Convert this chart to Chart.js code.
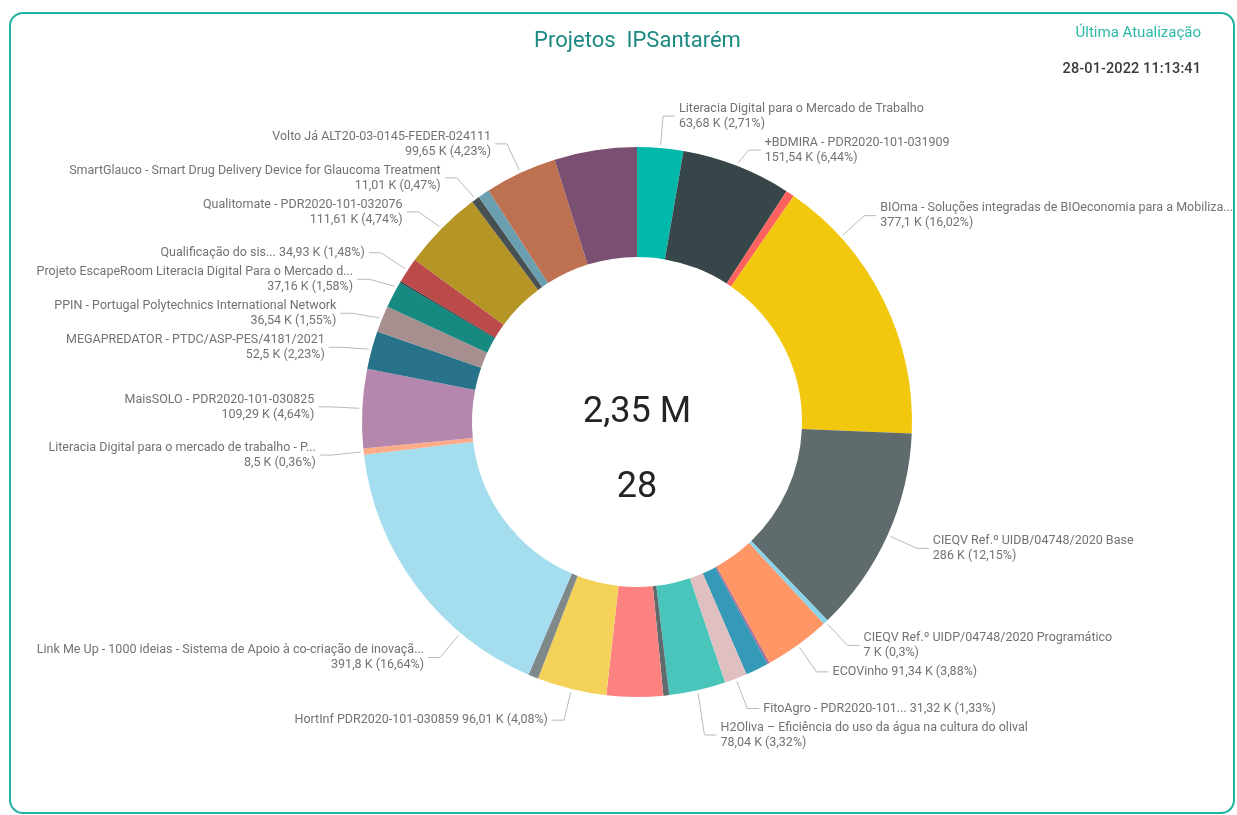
<!DOCTYPE html>
<html>
<head>
<meta charset="utf-8">
<script src="https://cdn.jsdelivr.net/npm/chart.js@4.4.1/dist/chart.umd.min.js"></script>
<style>
  html, body { margin: 0; padding: 0; background: #fff; }
  body { width: 1237px; height: 815px; position: relative; overflow: hidden; font-family: Roboto, sans-serif; }
  .frame { position: absolute; left: 9px; top: 12px; width: 1222px; height: 798px;
           border: 2px solid #1fb3a1; border-radius: 14px; }
  #title { position: absolute; left: 19px; top: 27px; width: 1237px; text-align: center;
           font-size: 22px; color: #1b8a80; white-space: pre; }
  #updLabel { position: absolute; right: 36px; top: 23px; font-size: 15px; color: #2bb9a7; }
  #updDate { position: absolute; right: 36px; top: 60px; font-size: 14.5px; font-weight: 500; color: #3a3a3a; letter-spacing: 0.1px; }
  #c { position: absolute; left: 0; top: 0; }
</style>
</head>
<body>
<div class="frame"></div>
<canvas id="c" width="1237" height="815"></canvas>
<div id="title">Projetos  IPSantarém</div>
<div id="updLabel">Última Atualização</div>
<div id="updDate">28-01-2022 11:13:41</div>
<script>
// projects in drawing order (clockwise from the top), '' = label hidden in the report
const projects = [
  'Literacia Digital para o Mercado de Trabalho',
  '+BDMIRA - PDR2020-101-031909',
  '',
  'BIOma - Soluções integradas de BIOeconomia para a Mobiliza...',
  'CIEQV Ref.º UIDB/04748/2020 Base',
  'CIEQV Ref.º UIDP/04748/2020 Programático',
  'ECOVinho',
  '',
  '',
  'FitoAgro - PDR2020-101...',
  'H2Oliva – Eficiência do uso da água na cultura do olival',
  '',
  '',
  'HortInf PDR2020-101-030859',
  '',
  'Link Me Up - 1000 ideias - Sistema de Apoio à co-criação de inovaçã...',
  'Literacia Digital para o mercado de trabalho - P...',
  'MaisSOLO - PDR2020-101-030825',
  'MEGAPREDATOR - PTDC/ASP-PES/4181/2021',
  'PPIN - Portugal Polytechnics International Network',
  'Projeto EscapeRoom Literacia Digital Para o Mercado d...',
  '',
  'Qualificação do sis...',
  'Qualitomate - PDR2020-101-032076',
  'SmartGlauco - Smart Drug Delivery Device for Glaucoma Treatment',
  '',
  'Volto Já ALT20-03-0145-FEDER-024111',
  ''
];

// budget in thousands of euro
const valuesK = [
  63.68, 151.54, 12, 377.1, 286, 7, 91.34, 3, 32, 31.32,
  78.04, 8, 78, 96.01, 14, 391.8, 8.5, 109.29, 52.5, 36.54,
  37.16, 2, 34.93, 111.61, 11.01, 16, 99.65, 114
];

const colors = [
  '#01B8AA', '#374649', '#FD625E', '#F2C80F', '#5F6B6D', '#8AD4EB', '#FE9666', '#A66999', '#3599B8', '#DFBFBF',
  '#4AC5BB', '#5F6B6D', '#FB8281', '#F4D25A', '#7F898A', '#A4DDEE', '#FDAB89', '#B687AC', '#28738A', '#A78F8F',
  '#168980', '#293537', '#BB4A4A', '#B59525', '#475052', '#6A9FB0', '#BD7150', '#7B4F71'
];

const fmt = (n) => String(+n.toFixed(2)).replace('.', ',');

const pieLabels = {
  id: 'pieLabels',
  afterDatasetsDraw(chart) {
    const { ctx } = chart;
    const arcs = chart.getDatasetMeta(0).data;
    const total = valuesK.reduce((s, v) => s + v, 0);
    ctx.save();
    ctx.font = '12.5px Roboto, sans-serif';
    const items = [];
    arcs.forEach((arc, i) => {
      const name = projects[i];
      if (!name) return;
      const { x, y, startAngle, endAngle, outerRadius } =
        arc.getProps(['x', 'y', 'startAngle', 'endAngle', 'outerRadius'], true);
      const value = fmt(valuesK[i]) + ' K (' + fmt(valuesK[i] / total * 100) + '%)';
      const lines = name.length <= 26 ? [name + ' ' + value] : [name, value];
      const w = Math.max(...lines.map((l) => ctx.measureText(l).width));
      let a = (startAngle + endAngle) / 2;
      const right = Math.cos(a) >= 0;
      const rE = outerRadius + 32;
      const fits = (ang) => {
        const ex = x + rE * Math.cos(ang);
        return right ? ex + 16 + w <= chart.width - 3 : ex - 16 - w >= 36;
      };
      // slide the anchor towards the vertical axis until the text fits
      const dir = Math.sin(a) < 0 ? (right ? -1 : 1) : (right ? 1 : -1);
      const step = 0.004;
      while (!fits(a) && a + dir * step > startAngle + 0.01 && a + dir * step < endAngle - 0.01) {
        a += dir * step;
      }
      items.push({
        x0: x + (outerRadius + 3) * Math.cos(a),
        y0: y + (outerRadius + 3) * Math.sin(a),
        ex: x + rE * Math.cos(a),
        ey: y + rE * Math.sin(a),
        right, lines, h: lines.length * 15
      });
    });

    [true, false].forEach((side) => {
      const list = items.filter((it) => it.right === side).sort((p, q) => p.ey - q.ey);
      for (let k = 1; k < list.length; k++) {
        const need = (list[k - 1].h + list[k].h) / 2 + 4;
        if (list[k].ey - list[k - 1].ey < need) list[k].ey = list[k - 1].ey + need;
      }
    });

    ctx.strokeStyle = '#b9b9b9';
    ctx.lineWidth = 1;
    ctx.fillStyle = '#727272';
    ctx.textBaseline = 'middle';
    items.forEach((it) => {
      const s = it.right ? 1 : -1;
      ctx.beginPath();
      ctx.moveTo(it.x0, it.y0);
      ctx.lineTo(it.ex, it.ey);
      ctx.lineTo(it.ex + s * 12, it.ey);
      ctx.stroke();
      ctx.textAlign = it.right ? 'left' : 'right';
      const top = it.ey - (it.lines.length - 1) * 7.5;
      it.lines.forEach((l, k) => ctx.fillText(l, it.ex + s * 16, top + k * 15));
    });

    // totals in the hole
    const c = arcs[0];
    ctx.fillStyle = '#252423';
    ctx.textAlign = 'center';
    ctx.font = '36px Roboto, sans-serif';
    ctx.fillText(fmt(total / 1000) + ' M', c.x, c.y - 9);
    ctx.fillText(String(projects.length), c.x, c.y + 66);
    ctx.restore();
  }
};

new Chart(document.getElementById('c'), {
  type: 'doughnut',
  data: {
    labels: projects,
    datasets: [{
      data: valuesK,
      backgroundColor: colors,
      borderWidth: 0,
      hoverOffset: 0,
      offset: 0
    }]
  },
  options: {
    responsive: false,
    devicePixelRatio: 1,
    animation: false,
    cutout: '60%',
    layout: { padding: { left: 362, right: 325, top: 147, bottom: 118 } },
    plugins: {
      legend: { display: false },
      tooltip: { enabled: false }
    }
  },
  plugins: [pieLabels]
});
</script>
</body>
</html>
